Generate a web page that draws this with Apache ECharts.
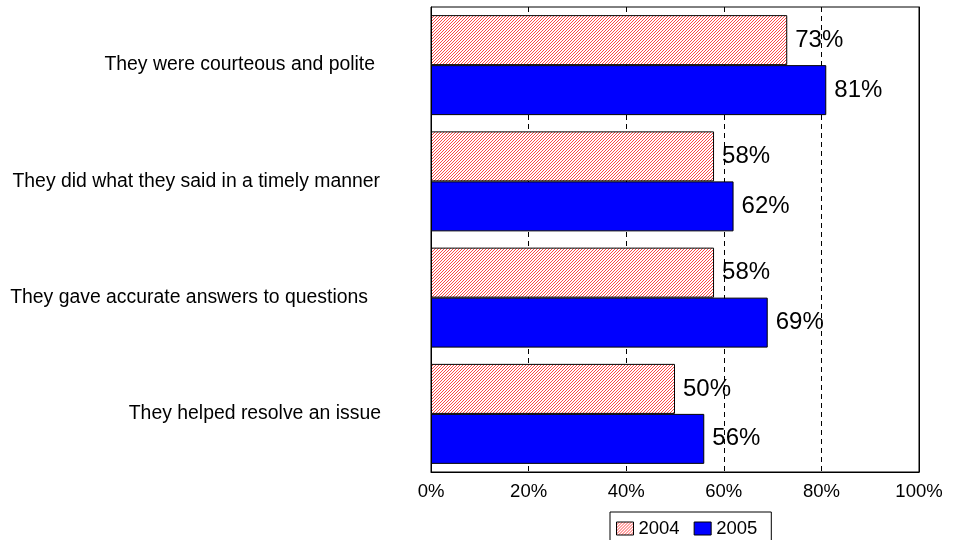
<!DOCTYPE html>
<html>
<head>
<meta charset="utf-8">
<script src="https://cdn.jsdelivr.net/npm/echarts@6/dist/echarts.min.js"></script>
<style>
html,body{margin:0;padding:0;background:#fff;}
#chart{width:953px;height:540px;}
</style>
</head>
<body>
<div id="chart"></div>
<script>
const categories = [
  "They were courteous and polite",
  "They did what they said in a timely manner",
  "They gave accurate answers to questions",
  "They helped resolve an issue"
];
const seriesNames = ["2004", "2005"];
const values2004 = [73, 58, 58, 50];
const values2005 = [81, 62, 69, 56];
const xTicks = [0, 20, 40, 60, 80, 100];

// hatch pattern for 2004
const pc = document.createElement('canvas');
pc.width = 3; pc.height = 3;
const pctx = pc.getContext('2d');
pctx.fillStyle = '#ffffff';
pctx.fillRect(0, 0, 3, 3);
pctx.fillStyle = '#ff4848';
pctx.fillRect(0, 2, 1, 1);
pctx.fillRect(1, 1, 1, 1);
pctx.fillRect(2, 0, 1, 1);
const hatch = { image: pc, repeat: 'repeat' };

const FONT = '"Liberation Sans", Arial, sans-serif';
const labelPad = [6, 1, 13, 0];
const richStyles = {};
labelPad.forEach((p, i) => {
  richStyles['c' + i] = { fontSize: 19.4, color: '#000', fontFamily: FONT, padding: [0, p, 0, 0] };
});

const chart = echarts.init(document.getElementById('chart'), null, { renderer: 'canvas' });
chart.setOption({
  animation: false,
  backgroundColor: '#ffffff',
  textStyle: { fontFamily: FONT, color: '#000' },
  grid: {
    left: 431, right: 34, top: 7, bottom: 68,
    show: true, borderColor: '#000', borderWidth: 1, backgroundColor: 'transparent'
  },
  legend: {
    data: seriesNames.map(n => ({ name: n, icon: 'rect' })),
    left: 610, top: 512,
    orient: 'horizontal',
    itemWidth: 17, itemHeight: 13, itemGap: 14,
    padding: [7, 14, 5, 6],
    borderColor: '#000', borderWidth: 1,
    textStyle: { fontFamily: FONT, fontSize: 18.5, color: '#000' },
    itemStyle: { borderColor: '#000', borderWidth: 1 }
  },
  xAxis: {
    type: 'value', min: xTicks[0], max: xTicks[xTicks.length - 1], interval: 20,
    axisLine: { show: true, lineStyle: { color: '#000' } },
    axisTick: { show: false },
    axisLabel: { formatter: '{value}%', fontSize: 18.5, color: '#000', fontFamily: FONT, margin: 10 },
    splitLine: {
      show: true,
      lineStyle: { color: '#000', type: [5, 4], width: 1 }
    }
  },
  yAxis: [
    {
      type: 'category', data: categories, inverse: true,
      axisLine: { show: true, lineStyle: { color: '#000' } },
      axisTick: { show: false },
      axisLabel: {
        margin: 50,
        formatter: function (v, i) { return '{c' + i + '|' + v + '}'; },
        rich: richStyles
      }
    },
    {
      type: 'category', data: categories, inverse: true, position: 'right',
      axisLine: { show: true, lineStyle: { color: '#000' } },
      axisTick: { show: false },
      axisLabel: { show: false },
      splitLine: { show: false }
    }
  ],
  series: [
    {
      name: seriesNames[0], type: 'bar', data: values2004,
      barGap: '0%', barCategoryGap: '14%',
      itemStyle: { color: hatch, borderColor: '#000', borderWidth: 1 },
      label: { show: true, position: 'right', distance: 8, formatter: '{c}%', fontSize: 24, color: '#000', fontFamily: FONT }
    },
    {
      name: seriesNames[1], type: 'bar', data: values2005,
      barGap: '0%', barCategoryGap: '14%',
      itemStyle: { color: '#0000ff', borderColor: '#000', borderWidth: 1 },
      label: { show: true, position: 'right', distance: 8, formatter: '{c}%', fontSize: 24, color: '#000', fontFamily: FONT }
    }
  ]
});
</script>
</body>
</html>
